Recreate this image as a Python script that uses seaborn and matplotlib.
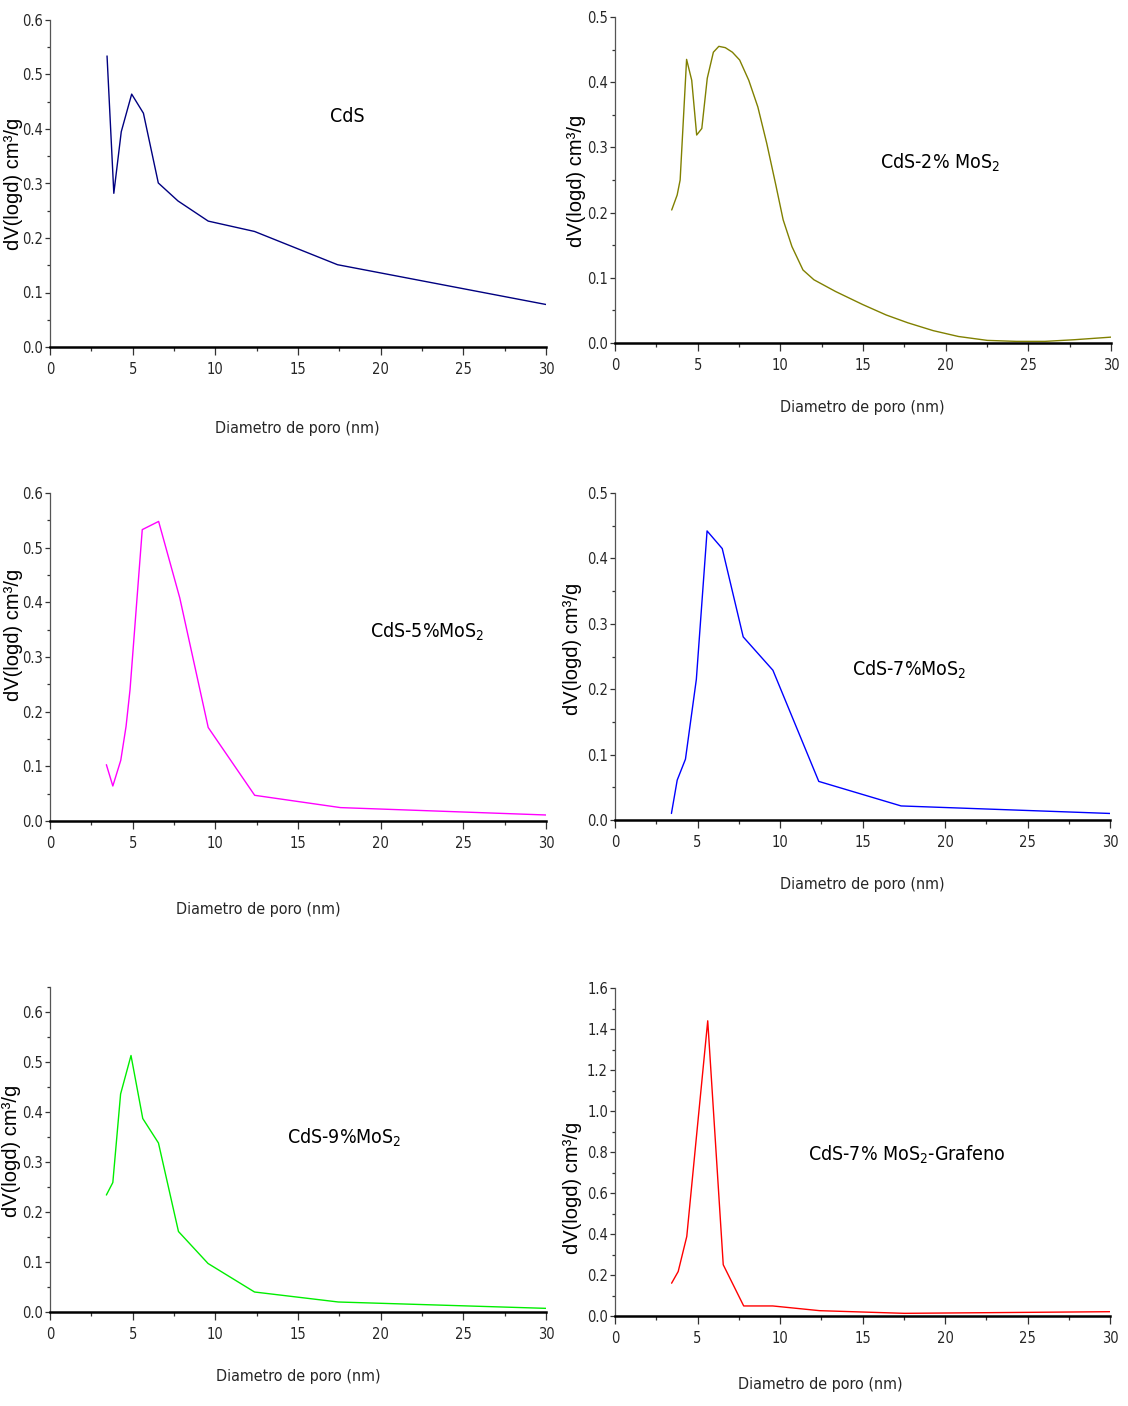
import matplotlib
matplotlib.use("Agg")
import matplotlib.pyplot as plt
from matplotlib.ticker import MultipleLocator, FormatStrFormatter
import seaborn as sns
import pandas as pd

# Pore size distributions (BJH) for each sample
diam_cds = [3.45, 3.86, 4.31, 4.94, 5.65, 6.55, 7.74, 9.57, 12.37, 17.39, 30.0]
dv_cds = [0.534, 0.282, 0.395, 0.464, 0.429, 0.301, 0.268, 0.231, 0.212, 0.151, 0.078]

diam_2mo = [3.43, 3.76, 3.94, 4.33, 4.64, 4.94, 5.25, 5.58, 5.95, 6.28, 6.67, 7.10,
            7.54, 8.09, 8.64, 9.18, 9.73, 10.17, 10.70, 11.37, 12.03, 13.34, 14.98,
            16.40, 17.71, 19.24, 20.77, 22.52, 24.27, 26.00, 27.77, 30.0]
dv_2mo = [0.204, 0.227, 0.250, 0.435, 0.403, 0.319, 0.329, 0.406, 0.446, 0.455, 0.453,
          0.446, 0.434, 0.403, 0.362, 0.306, 0.242, 0.189, 0.148, 0.112, 0.097, 0.079,
          0.059, 0.043, 0.031, 0.019, 0.010, 0.004, 0.0025, 0.0025, 0.005, 0.009]

diam_5mo = [3.41, 3.80, 4.28, 4.60, 4.84, 5.58, 6.57, 7.85, 9.57, 12.38, 17.57, 30.0]
dv_5mo = [0.103, 0.064, 0.111, 0.173, 0.240, 0.533, 0.548, 0.408, 0.171, 0.047, 0.0245, 0.011]

diam_7mo = [3.42, 3.77, 4.27, 4.93, 5.58, 6.50, 7.77, 9.57, 12.35, 17.34, 30.0]
dv_7mo = [0.010, 0.061, 0.093, 0.215, 0.442, 0.415, 0.280, 0.229, 0.059, 0.0215, 0.010]

diam_9mo = [3.41, 3.80, 4.27, 4.90, 5.61, 6.56, 7.77, 9.56, 12.37, 17.44, 30.0]
dv_9mo = [0.234, 0.259, 0.436, 0.513, 0.387, 0.338, 0.161, 0.097, 0.040, 0.020, 0.0073]

diam_graf = [3.43, 3.83, 4.35, 4.90, 5.62, 6.56, 7.80, 9.56, 12.40, 17.54, 30.0]
dv_graf = [0.160, 0.217, 0.388, 0.845, 1.440, 0.250, 0.049, 0.049, 0.026, 0.013, 0.021]

sample_labels = ["CdS", "CdS-2% MoS$_2$", "CdS-5%MoS$_2$", "CdS-7%MoS$_2$",
                 "CdS-9%MoS$_2$", "CdS-7% MoS$_2$-Grafeno"]
line_colors = ["#000080", "#808000", "#ff00ff", "#0000ff", "#00ee00", "#ff0000"]
y_tops = [0.6, 0.5, 0.6, 0.5, 0.65, 1.6]
y_steps = [0.1, 0.1, 0.1, 0.1, 0.1, 0.2]
x_ticks = [0, 5, 10, 15, 20, 25, 30]

x_title = "Diametro de poro (nm)"
y_title = "dV(logd) cm³/g"

sns.set_style("ticks")
plt.rcParams["font.family"] = ["DejaVu Sans", "Liberation Sans"]
plt.rcParams["font.stretch"] = "condensed"
plt.rcParams["mathtext.fontset"] = "custom"
plt.rcParams["mathtext.rm"] = "DejaVu Sans:stretch=condensed"
plt.rcParams["mathtext.it"] = "DejaVu Sans:stretch=condensed"
plt.rcParams["mathtext.default"] = "regular"

W, H = 1128, 1406
fig = plt.figure(figsize=(W / 100, H / 100), dpi=100)

# axes frames in pixels: left, right, top, bottom
frames = [(50, 546, 20, 347), (615, 1111, 17, 343),
          (50, 546, 493, 821), (615, 1110, 493, 820),
          (50, 546, 987, 1312), (615, 1110, 988, 1316)]
# x-label centres (axes fraction)
xlab_pos = [(0.498, -0.248), (0.498, -0.199), (0.419, -0.271),
            (0.499, -0.196), (0.50, -0.20), (0.414, -0.21)]
# y-label centres (pixels)
ylab_pix = [(14, 184), (576, 181), (14, 635), (572, 649), (12, 1151), (572, 1188)]
# sample label anchors (left, vertical centre of main text) in pixels
note_pix = [(330, 117), (880, 163), (370, 632), (852, 670), (287, 1138), (808, 1155)]

series = [(diam_cds, dv_cds), (diam_2mo, dv_2mo), (diam_5mo, dv_5mo),
          (diam_7mo, dv_7mo), (diam_9mo, dv_9mo), (diam_graf, dv_graf)]

for i, (l, r, t, b) in enumerate(frames):
    ax = fig.add_axes([l / W, 1 - b / H, (r - l) / W, (b - t) / H])
    xs, ys = series[i]
    df = pd.DataFrame({"d": xs, "v": ys})
    sns.lineplot(data=df, x="d", y="v", ax=ax, color=line_colors[i],
                 linewidth=1.0, sort=False, estimator=None)
    ax.set_xlim(0, 30)
    ax.set_ylim(0, y_tops[i])
    ax.set_xticks(x_ticks)
    ax.xaxis.set_minor_locator(MultipleLocator(2.5))
    ax.yaxis.set_major_locator(MultipleLocator(y_steps[i]))
    ax.yaxis.set_minor_locator(MultipleLocator(y_steps[i] / 2))
    ax.yaxis.set_major_formatter(FormatStrFormatter("%.1f"))

    for s in ("top", "right"):
        ax.spines[s].set_visible(False)
    ax.spines["left"].set_color("#555555")
    ax.spines["left"].set_linewidth(0.9)
    ax.spines["bottom"].set_color("black")
    ax.spines["bottom"].set_linewidth(1.8)
    ax.spines["bottom"].set_zorder(3)

    ax.tick_params(axis="x", which="major", direction="out", length=6, width=0.9,
                   color="#333333", pad=5, labelsize=10.5)
    ax.tick_params(axis="x", which="minor", direction="out", length=3, width=0.9,
                   color="#333333")
    ax.tick_params(axis="y", which="major", direction="out", length=3.5, width=0.9,
                   color="#333333", pad=1.5, labelsize=10.5)
    ax.tick_params(axis="y", which="minor", direction="out", length=2, width=0.9,
                   color="#333333")

    ax.set_xlabel(x_title, fontsize=11.5)
    ax.xaxis.label.set_va("center")
    ax.xaxis.set_label_coords(*xlab_pos[i])
    ax.set_ylabel("")

    yx, yy = ylab_pix[i]
    fig.text(yx / W, 1 - yy / H, y_title, rotation=90, ha="center", va="center",
             fontsize=14.5, family=["Liberation Sans", "DejaVu Sans"],
             fontstretch="normal", color="black")

    nx, ny = note_pix[i]
    fig.text(nx / W, 1 - ny / H, sample_labels[i], ha="left", va="center",
             fontsize=14, color="black")

fig.savefig("out.png", dpi=100, facecolor="white")
